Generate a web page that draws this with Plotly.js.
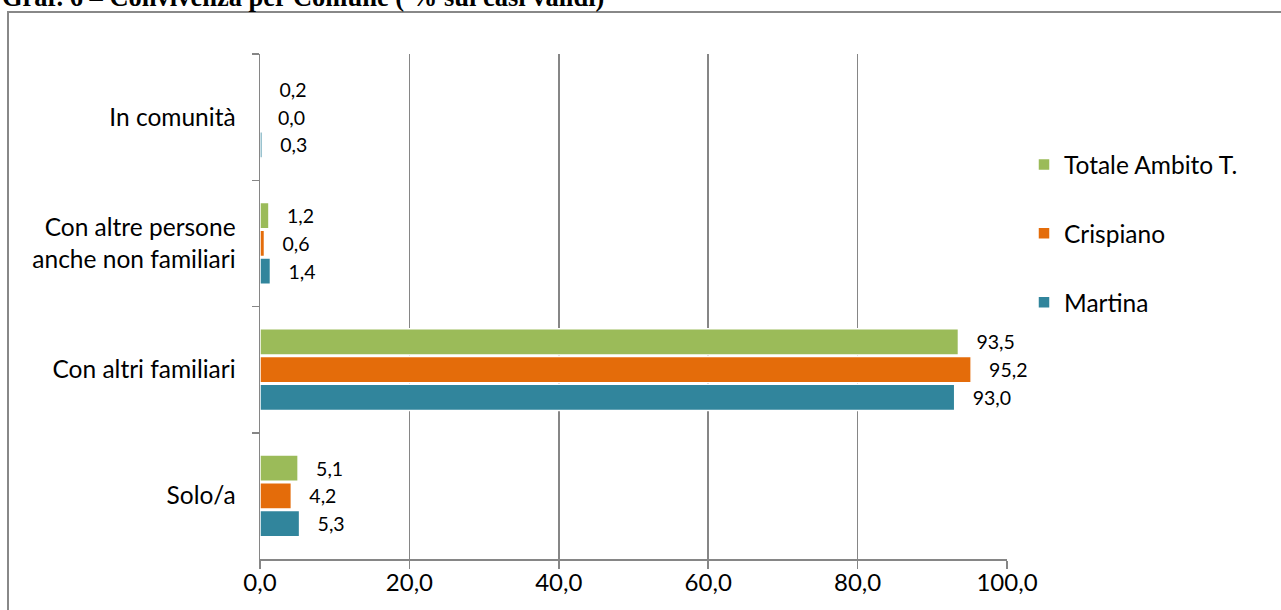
<!DOCTYPE html>
<html>
<head>
<meta charset="utf-8">
<script src="https://cdn.plot.ly/plotly-3.0.1.min.js"></script>
<style>
  html, body { margin: 0; padding: 0; background: #fff; }
  #chart { width: 1281px; height: 610px; }
</style>
</head>
<body>
<div id="chart"></div>
<script>
// Tipologia di convivenza (percentuali sui casi validi), dall'alto verso il basso
const categories = [
  'In comunità',
  'Con altre persone<br>anche non familiari',
  'Con altri familiari',
  'Solo/a'
];
const seriesNames = ['Totale Ambito T.', 'Crispiano', 'Martina'];
const totaleAmbito = [0.2, 1.2, 93.5, 5.1];
const crispiano    = [0.0, 0.6, 95.2, 4.2];
const martina      = [0.3, 1.4, 93.0, 5.3];
const seriesValues = [totaleAmbito, crispiano, martina];
const seriesColors = ['#9BBB59', '#E46C0A', '#31859C'];
const xTicks = [0, 20, 40, 60, 80, 100];

const axisGrey = '#868686';
const labelFont = 'Lato, "Open Sans", sans-serif';

const traces = seriesNames.map((name, i) => ({
  type: 'bar',
  orientation: 'h',
  name: name,
  legendgroup: 'g' + i,
  y: categories,
  x: seriesValues[i],
  marker: { color: seriesColors[i], line: { color: '#ffffff', width: 1.5 } },
  texttemplate: '\u00a0\u00a0\u00a0%{x:.1f}',
  textposition: 'outside',
  constraintext: 'none',
  cliponaxis: false,
  textfont: { family: labelFont, size: 19.5, color: '#000000' },
  hoverinfo: 'skip'
}));

// Plot-area geometry in pixels, used to place the frame and the heading
const W = 1281, H = 610;
const M = { l: 260, r: 274, t: 54, b: 51 };
const pw = W - M.l - M.r, ph = H - M.t - M.b;
const px2x = px => (px - M.l) / pw;
const py2y = py => (H - M.b - py) / ph;

const layout = {
  width: W,
  height: H,
  margin: M,
  paper_bgcolor: '#ffffff',
  plot_bgcolor: '#ffffff',
  separators: ',.',
  barmode: 'group',
  bargap: 0.34,
  bargroupgap: 0.05,
  showlegend: true,
  legend: {
    x: px2x(1024),
    xanchor: 'left',
    y: py2y(142),
    yanchor: 'top',
    tracegroupgap: 34,
    font: { family: labelFont, size: 24.5, color: '#000000' },
    bgcolor: 'rgba(0,0,0,0)'
  },
  xaxis: {
    range: [0, 100],
    tickvals: xTicks,
    tickformat: '.1f',
    showgrid: true,
    gridcolor: axisGrey,
    gridwidth: 1.5,
    zeroline: false,
    showline: true,
    linecolor: axisGrey,
    linewidth: 1.5,
    ticks: 'outside',
    ticklen: 8,
    tickwidth: 1.5,
    tickcolor: axisGrey,
    ticklabelstandoff: -6,
    tickfont: { family: labelFont, size: 24, color: '#000000' },
    fixedrange: true
  },
  yaxis: {
    type: 'category',
    categoryorder: 'array',
    categoryarray: categories,
    autorange: 'reversed',
    showgrid: false,
    zeroline: false,
    showline: true,
    linecolor: axisGrey,
    linewidth: 1.5,
    ticks: 'outside',
    tickson: 'boundaries',
    ticklen: 7,
    tickwidth: 1.5,
    tickcolor: axisGrey,
    ticklabelstandoff: 18,
    tickfont: { family: labelFont, size: 24.5, color: '#000000' },
    fixedrange: true
  },
  shapes: [{
    type: 'rect',
    xref: 'paper', yref: 'paper',
    x0: px2x(8), x1: px2x(1300),
    y0: py2y(640), y1: py2y(12),
    line: { color: '#888888', width: 2 },
    fillcolor: 'rgba(0,0,0,0)',
    layer: 'below'
  }],
  annotations: [{
    text: '<b>Graf. 6 – Convivenza per Comune ( % sui casi validi)</b>',
    xref: 'paper', yref: 'paper',
    x: px2x(0), xanchor: 'left',
    y: py2y(14), yanchor: 'bottom',
    showarrow: false,
    font: { family: '"Liberation Serif", "Times New Roman", serif', size: 26.5, color: '#000000' }
  }]
};

Plotly.newPlot('chart', traces, layout, { displayModeBar: false, staticPlot: true });
</script>
</body>
</html>
